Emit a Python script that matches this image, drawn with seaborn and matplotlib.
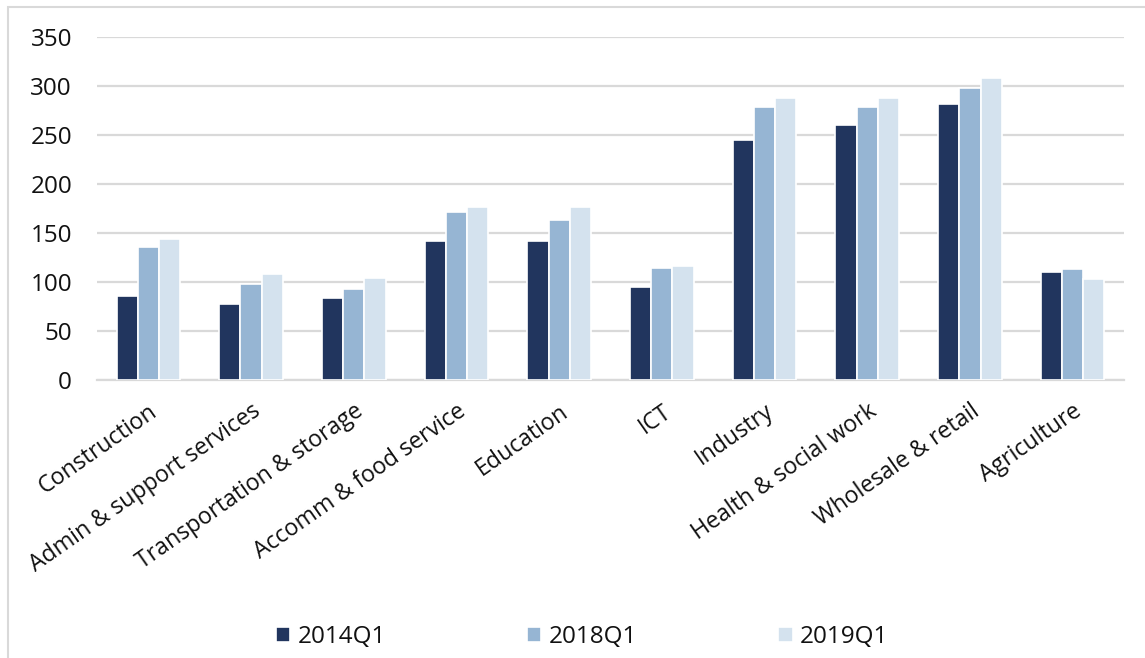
import matplotlib
matplotlib.use("Agg")
import matplotlib.pyplot as plt
import seaborn as sns
import pandas as pd
from matplotlib.patches import Rectangle

categories = ["Construction", "Admin & support services", "Transportation & storage",
              "Accomm & food service", "Education", "ICT", "Industry",
              "Health & social work", "Wholesale & retail", "Agriculture"]
series_names = ["2014Q1", "2018Q1", "2019Q1"]
v2014 = [86, 77, 84, 142, 142, 95, 245, 260, 281, 110]
v2018 = [136, 98, 93, 171, 163, 114, 278, 278, 298, 113]
v2019 = [144, 108, 104, 176, 176, 116, 287, 288, 308, 103]
yticks = [0, 50, 100, 150, 200, 250, 300, 350]
colors = ["#21355E", "#96B5D3", "#D4E2EE"]

df = pd.DataFrame({
    "category": categories * 3,
    "value": v2014 + v2018 + v2019,
    "series": [s for s in series_names for _ in categories],
})

sns.set_theme(style="white")
plt.rcParams["font.family"] = ["Open Sans", "DejaVu Sans"]

fig = plt.figure(figsize=(11.45, 6.58), dpi=100)
ax = fig.add_axes([97 / 1145, 1 - 380 / 658, (1124 - 97) / 1145, (380 - 36.7) / 658])

sns.barplot(data=df, x="category", y="value", hue="series", palette=colors,
            width=0.62, gap=0.0, edgecolor="white", linewidth=1.2, ax=ax,
            saturation=1, zorder=3)

ax.set_ylim(0, 350)
ax.set_yticks(yticks)
ax.set_yticklabels([str(t) for t in yticks], fontsize=17.5, color="#111111")
ax.set_xlabel("")
ax.set_ylabel("")
ax.grid(axis="y", color="#D9D9D9", linewidth=1.6, zorder=0)
ax.set_axisbelow(True)
for s in ["left", "right", "top"]:
    ax.spines[s].set_visible(False)
ax.spines["bottom"].set_color("#D9D9D9")
ax.spines["bottom"].set_linewidth(1.6)
ax.tick_params(axis="y", length=0, pad=18)
ax.tick_params(axis="x", length=0, pad=14)
ax.set_xticks(range(len(categories)))
ax.set_xticklabels(categories, rotation=35, ha="right", rotation_mode="anchor",
                   fontsize=16.7, color="#111111")
ax.set_xlim(-0.5, len(categories) - 0.5)

leg = ax.legend(loc="center", bbox_to_anchor=(582 / 1145, 1 - 637 / 658),
                bbox_transform=fig.transFigure, ncol=3, frameon=False,
                fontsize=17.5, handlelength=0.6, handleheight=0.6, handletextpad=0.3,
                columnspacing=5.8)
for t in leg.get_texts():
    t.set_color("#111111")

fig.patches.append(Rectangle((8 / 1145, -0.1), 1.2, 1 - 7 / 658 + 0.1,
                             transform=fig.transFigure, fill=False,
                             edgecolor="#D9D9D9", linewidth=1.5))

fig.savefig("out.png", dpi=100)
